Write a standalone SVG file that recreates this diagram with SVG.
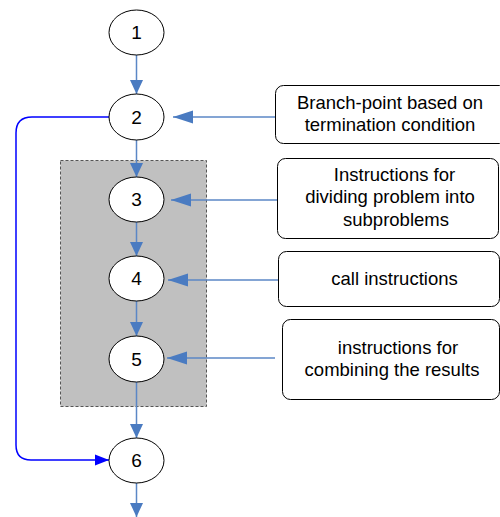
<svg xmlns="http://www.w3.org/2000/svg" width="500" height="517" viewBox="0 0 500 517">
<style>
.node ellipse{fill:#fff;stroke:#000;stroke-width:1}
.box rect{fill:#fff;stroke:#000;stroke-width:1}
text{font-family:"Liberation Sans",Arial,Helvetica,sans-serif;fill:#000}
.num{font-size:19px;text-anchor:middle}
.lbl{font-size:18.5px;text-anchor:middle}
.c{fill:none;stroke:#5b87c6;stroke-width:1.5}
.loop{fill:none;stroke:#0000ff;stroke-width:1.5}
</style>
<defs>
<marker id="av" markerUnits="userSpaceOnUse" markerWidth="14" markerHeight="16" refX="14" refY="6.5" orient="auto" viewBox="0 0 14 13">
<path d="M0,0 L14,6.5 L0,13 Z" fill="#4a7bc1"/>
</marker>
<marker id="ah" markerUnits="userSpaceOnUse" markerWidth="20" markerHeight="14" refX="20" refY="6.5" orient="auto" viewBox="0 0 20 13">
<path d="M0,0 L20,6.5 L0,13 Z" fill="#4a7bc1"/>
</marker>
<marker id="ab" markerUnits="userSpaceOnUse" markerWidth="14" markerHeight="12" refX="14" refY="5.5" orient="auto" viewBox="0 0 14 11">
<path d="M0,0 L14,5.5 L0,11 Z" fill="#0000ff"/>
</marker>
</defs>
<rect id="group" x="60.5" y="160.5" width="146" height="246" fill="#c0c0c0" stroke="#555" stroke-width="1" stroke-dasharray="3,2"/>
<g id="connectors">
<path class="c" d="M136.5,55 V94" marker-end="url(#av)"/>
<path class="c" d="M136.5,140 V177" marker-end="url(#av)"/>
<path class="c" d="M136.5,222 V256" marker-end="url(#av)"/>
<path class="c" d="M136.5,301 V336" marker-end="url(#av)"/>
<path class="c" d="M136.5,382 V438" marker-end="url(#av)"/>
<path class="c" d="M136.5,483 V517" marker-end="url(#av)"/>
<path class="c" d="M275,117 H173" marker-end="url(#ah)"/>
<path class="c" d="M277,200 H171" marker-end="url(#ah)"/>
<path class="c" d="M278,280 H168" marker-end="url(#ah)"/>
<path class="c" d="M275,358 H167" marker-end="url(#ah)"/>
<path class="loop" d="M109,117 H32 Q16,117 16,133 V445 Q16,460 31,460 H109" marker-end="url(#ab)"/>
</g>
<g id="n1" class="node"><ellipse cx="136.5" cy="32.5" rx="27.5" ry="22.5"/><text class="num" x="136.5" y="39">1</text></g>
<g id="n2" class="node"><ellipse cx="136.5" cy="117" rx="27.5" ry="23"/><text class="num" x="136.5" y="123.5">2</text></g>
<g id="n3" class="node"><ellipse cx="136.5" cy="199.5" rx="27.5" ry="22.5"/><text class="num" x="136.5" y="206">3</text></g>
<g id="n4" class="node"><ellipse cx="136.5" cy="278.5" rx="27.5" ry="22.5"/><text class="num" x="136.5" y="285">4</text></g>
<g id="n5" class="node"><ellipse cx="136.5" cy="359" rx="27.5" ry="23"/><text class="num" x="136.5" y="365.5">5</text></g>
<g id="n6" class="node"><ellipse cx="136.5" cy="460.5" rx="27.5" ry="22.5"/><text class="num" x="136.5" y="467">6</text></g>
<g id="b1" class="box"><rect x="275.5" y="85.5" width="232" height="58" rx="8"/>
<text class="lbl" x="390" y="109">Branch-point based on</text>
<text class="lbl" x="390" y="131">termination condition</text></g>
<g id="b2" class="box"><rect x="277.5" y="158.5" width="221" height="80" rx="8"/>
<text class="lbl" x="394.5" y="181">Instructions for</text>
<text class="lbl" x="390" y="203">dividing problem into</text>
<text class="lbl" x="396" y="225.5">subproblems</text></g>
<g id="b3" class="box"><rect x="278.5" y="251.5" width="221" height="55" rx="8"/>
<text class="lbl" x="394.5" y="285">call instructions</text></g>
<g id="b4" class="box"><rect x="282.5" y="319.5" width="217" height="80" rx="8"/>
<text class="lbl" x="398" y="354">instructions for</text>
<text class="lbl" x="392" y="376">combining the results</text></g>
</svg>
